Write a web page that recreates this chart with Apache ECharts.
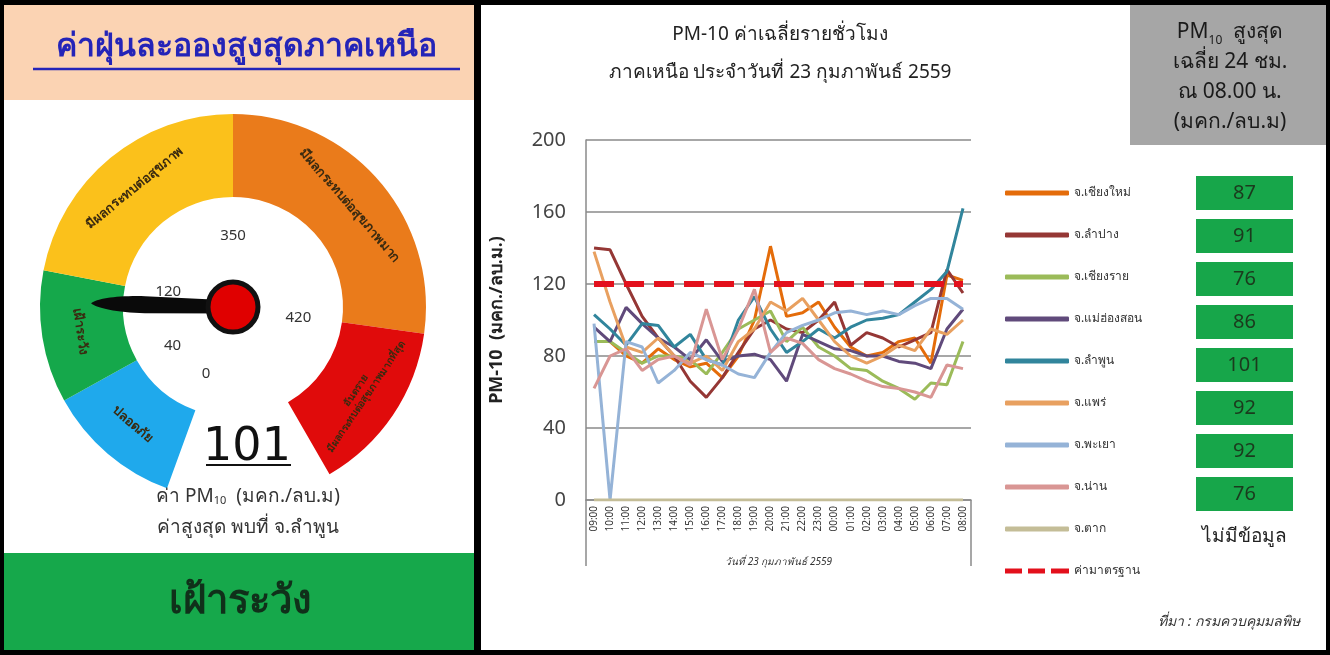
<!DOCTYPE html>
<html><head><meta charset="utf-8">
<script src="https://cdn.jsdelivr.net/npm/echarts@6/dist/echarts.min.js"></script>
<style>html,body{margin:0;padding:0;background:#fff}#c{width:1330px;height:655px}</style>
</head><body><div id="c"></div>
<script>
// ---------- DATA ----------
const hours = ['09:00','10:00','11:00','12:00','13:00','14:00','15:00','16:00','17:00','18:00','19:00','20:00','21:00','22:00','23:00','00:00','01:00','02:00','03:00','04:00','05:00','06:00','07:00','08:00'];
const provinces = ['จ.เชียงใหม่','จ.ลำปาง','จ.เชียงราย','จ.แม่ฮ่องสอน','จ.ลำพูน','จ.แพร่','จ.พะเยา','จ.น่าน','จ.ตาก'];
const chiangMai  = [88,88,80,76,84,78,74,76,68,80,100,141,102,104,110,96,85,80,82,88,90,76,125,122];
const lampang    = [140,139,120,102,90,80,66,57,68,82,95,100,95,93,100,110,86,93,90,85,89,93,128,115];
const chiangRai  = [88,88,82,76,80,80,78,70,82,95,100,105,88,96,85,80,73,72,66,62,56,65,64,88];
const maeHongSon = [96,88,107,98,90,85,78,89,77,80,81,78,66,92,88,84,83,80,80,77,76,73,95,106];
const lamphun    = [103,95,86,98,97,85,92,78,75,100,113,95,82,88,95,90,96,100,101,103,110,117,127,162];
const phrae      = [138,110,85,82,90,80,76,80,72,88,95,110,105,112,100,88,80,76,80,86,83,95,92,100];
const phayao     = [98,0,88,85,65,72,82,78,75,70,68,82,93,97,100,104,105,103,105,103,108,112,112,106];
const nan        = [62,80,84,72,78,80,75,106,78,95,117,82,90,87,78,73,70,66,63,62,60,57,75,73];
const tak        = [0,0,0,0,0,0,0,0,0,0,0,0,0,0,0,0,0,0,0,0,0,0,0,0];
const standardName = 'ค่ามาตรฐาน';
const standardValue = 120;
const yTicks = [0,40,80,120,160,200];
const avg24 = [87,91,76,86,101,92,92,76];
const noDataText = 'ไม่มีข้อมูล';
const gaugeThresholds = [0,40,120,350,420,500];
const gaugeBands = ['ปลอดภัย','เฝ้าระวัง','มีผลกระทบต่อสุขภาพ','มีผลกระทบต่อสุขภาพมาก','อันตราย\nมีผลกระทบต่อสุขภาพมากที่สุด'];
const maxValue = 101;
const maxProvince = 'จ.ลำพูน';
const levelText = 'เฝ้าระวัง';

// ---------- STYLE / LAYOUT ----------
const F = "Tahoma, 'Noto Sans', 'DejaVu Sans', sans-serif";
const seriesColors = ['#E46C0A','#953735','#9BBB59','#604A7B','#31859C','#E8A060','#95B3D7','#D99694','#C4BD97'];
const bandColors = ['#1FA9EC','#15A84B','#FBC11B','#EA7B1B','#E00B0B'];
const bandSpans = [41,40,79,98,52];
const bandFont = [13,13,13,13,10];
const gStart = 250, gCenter = [233,307];

const allSeriesData = [chiangMai,lampang,chiangRai,maeHongSon,lamphun,phrae,phayao,nan,tak];
const series = provinces.map((n,i)=>({
  name:n, type:'line', data:allSeriesData[i], symbol:'none', smooth:false,
  lineStyle:{width:3,color:seriesColors[i]}, itemStyle:{color:seriesColors[i]}, z:3
}));
series.push({name:standardName,type:'line',data:hours.map(()=>standardValue),symbol:'none',
  lineStyle:{width:6,color:'#E3101C',type:[20,10]},itemStyle:{color:'#E3101C'},z:4});

// gauge bands as pie ring
const pieData = gaugeBands.map((b,i)=>({name:b,value:bandSpans[i],itemStyle:{color:bandColors[i]},label:{fontSize:bandFont[i],lineHeight:bandFont[i]+2}}));
pieData.push({name:'',value:360-bandSpans.reduce((a,b)=>a+b,0),itemStyle:{color:'rgba(0,0,0,0)'},label:{show:false}});
series.push({type:'pie',center:gCenter,radius:[110,193],startAngle:gStart,clockwise:true,silent:true,
  data:pieData,label:{show:true,position:'inside',rotate:'tangential',fontSize:13,fontWeight:'bold',color:'#3a2a10',fontFamily:F,lineHeight:15},
  labelLine:{show:false},emphasis:{disabled:true},z:1});

// gauge scales per band for tick labels and needle
let ang = gStart;
gaugeThresholds.slice(0,-1).forEach((t,i)=>{
  const lo=t, hi=gaugeThresholds[i+1];
  const has = maxValue>=lo && maxValue<hi;
  series.push({type:'gauge',center:gCenter,radius:79,startAngle:ang,endAngle:ang-bandSpans[i],min:lo,max:hi,splitNumber:1,
    axisLine:{show:false,lineStyle:{width:0}},splitLine:{show:false,length:0,distance:0},axisTick:{show:false},
    axisLabel:{show:true,distance:0,fontSize:15,color:'#333',fontFamily:F,align:'center',verticalAlign:'middle',
      formatter:v=> v===lo ? String(v) : ''},
    pointer:{show:has,icon:'path://M50 0 C78 4 100 18 100 38 L88 100 L12 100 L0 38 C0 18 22 4 50 0 Z',length:142,width:17,itemStyle:{color:'#0a0a0a'}},
    anchor:{show:has,showAbove:true,size:50,itemStyle:{color:'#E00000',borderColor:'#111',borderWidth:5}},
    title:{show:false},
    detail:{show:has,offsetCenter:[14,141],fontSize:46,fontWeight:'normal',color:'#111',fontFamily:"'DejaVu Sans', sans-serif",formatter:'{value}'},
    data: has ? [{value:maxValue}] : [],
    silent:true,z:5});
  ang -= bandSpans[i];
});

// legend entries: solid bars for provinces, dashed bar for the standard
const legendData = provinces.map(n=>({name:n,icon:'roundRect'}))
  .concat([{name:standardName,icon:'path://M0 0H17V5H0Z M23 0H40V5H23Z M46 0H64V5H46Z'}]);

// green boxes
const boxGraphics = [];
avg24.forEach((v,i)=>{
  boxGraphics.push({type:'rect',shape:{x:1196,y:176+i*43,width:97,height:34},style:{fill:'#17A64A'},z:10});
  boxGraphics.push({type:'text',style:{x:1244.5,y:193+i*43,text:String(v),fill:'#1b3a1d',font:"20px "+F,textAlign:'center',textVerticalAlign:'middle'},z:11});
});
boxGraphics.push({type:'text',style:{x:1244.5,y:537,text:noDataText,fill:'#222',font:"19px "+F,textAlign:'center',textVerticalAlign:'middle'},z:11});

const chart = echarts.init(document.getElementById('c'),null,{renderer:'canvas'});
chart.setOption({
  backgroundColor:'#fff',
  animation:false,
  textStyle:{fontFamily:F},
  grid:{left:586,top:140,width:385,height:360,containLabel:false},
  xAxis:{type:'category',data:hours,boundaryGap:true,
    axisLine:{lineStyle:{color:'#8a8a8a',width:1.5}},axisTick:{show:false},
    axisLabel:{interval:0,rotate:90,fontSize:10,color:'#333',margin:6},
    name:'วันที่ 23 กุมภาพันธ์ 2559',nameLocation:'middle',nameGap:57,
    nameTextStyle:{fontSize:10,fontStyle:'italic',color:'#333'}},
  yAxis:{type:'value',min:yTicks[0],max:yTicks[yTicks.length-1],interval:40,
    axisLine:{show:true,lineStyle:{color:'#8a8a8a',width:1.5}},axisTick:{show:false},
    splitLine:{lineStyle:{color:'#8a8a8a',width:1.5}},
    axisLabel:{fontSize:20,color:'#444',margin:20},
    name:'PM-10  (มคก./ลบ.ม.)',nameLocation:'middle',nameGap:80,nameRotate:90,
    nameTextStyle:{fontSize:18,fontWeight:'bold',color:'#222'}},
  legend:{orient:'vertical',left:1000,top:182,itemWidth:64,itemHeight:5,itemGap:30,
    data:legendData,textStyle:{fontSize:12,color:'#333'},selectedMode:false},
  series:series,
  graphic:[
    // frame / panels
    {type:'rect',shape:{x:0,y:0,width:1330,height:655},style:{fill:'#000'},z:-10,silent:true},
    {type:'rect',shape:{x:4,y:5,width:470,height:645},style:{fill:'#fff'},z:-9},
    {type:'rect',shape:{x:481,y:5,width:845,height:645},style:{fill:'#fff'},z:-9},
    {type:'rect',shape:{x:4,y:5,width:470,height:95},style:{fill:'#FBD3B3'},z:-8},
    {type:'rect',shape:{x:4,y:553,width:470,height:97},style:{fill:'#16A84B'},z:-8},
    {type:'rect',shape:{x:1130,y:5,width:196,height:140},style:{fill:'#A6A6A6'},z:-8},
    // left panel texts
    {type:'text',style:{x:246,y:47,text:'ค่าฝุ่นละอองสูงสุดภาคเหนือ',fill:'#2424B8',font:"bold 32px "+F,textAlign:'center',textVerticalAlign:'middle'},z:12},
    {type:'line',shape:{x1:33,y1:69,x2:460,y2:69},style:{stroke:'#2424B8',lineWidth:2.5},z:12},
    {type:'line',shape:{x1:206,y1:465,x2:291,y2:465},style:{stroke:'#111',lineWidth:2},z:12},
    {type:'text',style:{x:248,y:497,text:'{a|ค่า PM}{s|10}{a|  (มคก./ลบ.ม)}',fill:'#333',font:"19px "+F,textAlign:'center',textVerticalAlign:'middle',
      rich:{a:{fontSize:19,fontFamily:F,fill:'#333'},s:{fontSize:11,fontFamily:F,verticalAlign:'bottom',padding:[8,0,0,0],fill:'#333'}}},z:12},
    {type:'text',style:{x:248,y:528,text:'ค่าสูงสุด พบที่ '+maxProvince,fill:'#333',font:"19px "+F,textAlign:'center',textVerticalAlign:'middle'},z:12},
    {type:'text',style:{x:240,y:602,text:levelText,fill:'#10301a',font:"bold 40px "+F,textAlign:'center',textVerticalAlign:'middle'},z:12},
    // right panel titles
    {type:'text',style:{x:780,y:35,text:'PM-10 ค่าเฉลี่ยรายชั่วโมง',fill:'#222',font:"19px "+F,textAlign:'center',textVerticalAlign:'middle'},z:12},
    {type:'text',style:{x:780,y:73,text:'ภาคเหนือ ประจำวันที่ 23 กุมภาพันธ์ 2559',fill:'#222',font:"19px "+F,textAlign:'center',textVerticalAlign:'middle'},z:12},
    {type:'text',style:{x:1230,y:77,text:'{a|PM}{s|10}{a|  สูงสุด}\n{a|เฉลี่ย 24 ชม.}\n{a|ณ 08.00 น.}\n{a|(มคก./ลบ.ม)}',font:"21px "+F,textAlign:'center',textVerticalAlign:'middle',
      rich:{a:{fontSize:21,fontFamily:F,fill:'#1a1a1a',lineHeight:30},s:{fontSize:12,fontFamily:F,fill:'#1a1a1a',verticalAlign:'bottom',lineHeight:30}}},z:12},
    {type:'text',style:{x:1300,y:622,text:'ที่มา : กรมควบคุมมลพิษ',fill:'#333',font:"italic 14px "+F,textAlign:'right',textVerticalAlign:'middle'},z:12},
    // category axis frame ticks (Excel style)
    {type:'line',shape:{x1:586,y1:500,x2:586,y2:566},style:{stroke:'#8a8a8a',lineWidth:1.5},z:12},
    {type:'line',shape:{x1:971,y1:500,x2:971,y2:566},style:{stroke:'#8a8a8a',lineWidth:1.5},z:12}
  ].concat(boxGraphics)
});
</script></body></html>
